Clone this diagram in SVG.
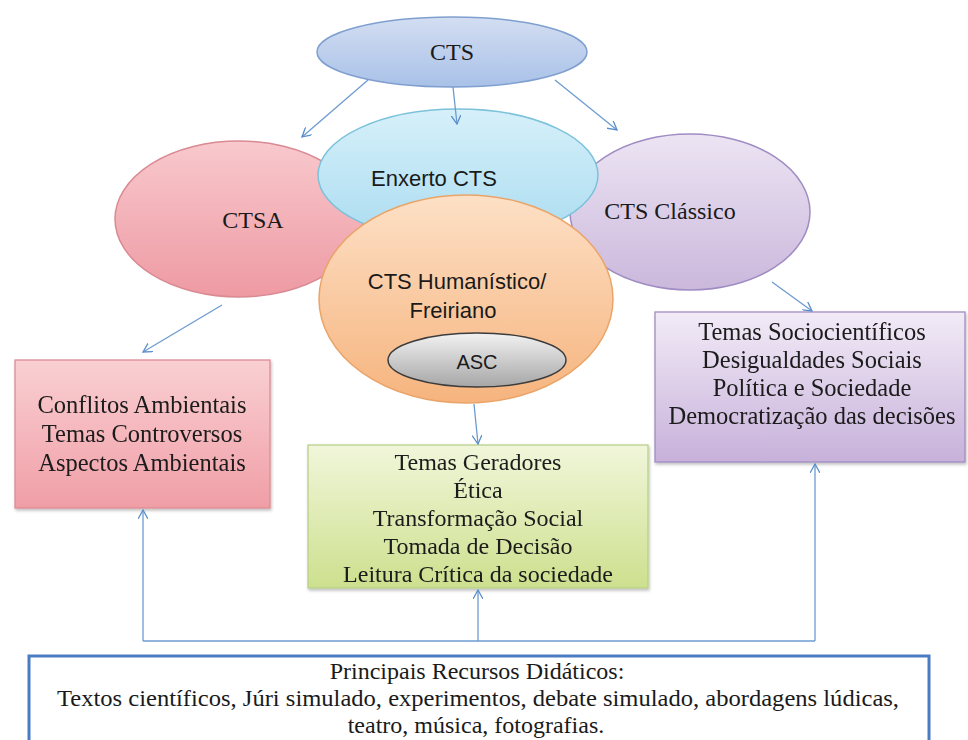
<svg xmlns="http://www.w3.org/2000/svg" width="968" height="740" viewBox="0 0 968 740">
<defs>
<linearGradient id="gBlue" x1="0" y1="0" x2="0" y2="1"><stop offset="0" stop-color="#d3def2"/><stop offset="1" stop-color="#a9c1e8"/></linearGradient>
<linearGradient id="gPink" x1="0" y1="0" x2="0" y2="1"><stop offset="0" stop-color="#f8c9cd"/><stop offset="1" stop-color="#ee9aa3"/></linearGradient>
<linearGradient id="gCyan" x1="0" y1="0" x2="0" y2="1"><stop offset="0" stop-color="#d6f0fa"/><stop offset="1" stop-color="#aadcf0"/></linearGradient>
<linearGradient id="gLav" x1="0" y1="0" x2="0" y2="1"><stop offset="0" stop-color="#ece4f3"/><stop offset="1" stop-color="#cbb8dc"/></linearGradient>
<linearGradient id="gOrange" x1="0" y1="0" x2="0" y2="1"><stop offset="0" stop-color="#fde0c6"/><stop offset="1" stop-color="#f6b47e"/></linearGradient>
<linearGradient id="gGray" x1="0" y1="0" x2="0" y2="1"><stop offset="0" stop-color="#f2f2f2"/><stop offset="1" stop-color="#a6a6a6"/></linearGradient>
<linearGradient id="gPinkBox" x1="0" y1="0" x2="0" y2="1"><stop offset="0" stop-color="#f9d0d3"/><stop offset="1" stop-color="#f09ea6"/></linearGradient>
<linearGradient id="gGreen" x1="0" y1="0" x2="0" y2="1"><stop offset="0" stop-color="#f1f6da"/><stop offset="1" stop-color="#cde08e"/></linearGradient>
<linearGradient id="gPurple" x1="0" y1="0" x2="0" y2="1"><stop offset="0" stop-color="#f2ebf7"/><stop offset="1" stop-color="#c7b1da"/></linearGradient>
<filter id="sh" x="-10%" y="-10%" width="120%" height="125%"><feDropShadow dx="1" dy="2" stdDeviation="1.5" flood-color="#000" flood-opacity="0.25"/></filter>
<marker id="arr" viewBox="0 0 10 10" refX="9" refY="5" markerWidth="10" markerHeight="10" markerUnits="userSpaceOnUse" orient="auto"><path d="M0,0 L9,5 L0,10" fill="none" stroke="#5b8fc9" stroke-width="1.3"/></marker>
</defs>
<style>
.serif{font-family:"Liberation Serif","Times New Roman",serif;fill:#1a1a1a;text-anchor:middle}
.sans{font-family:"Liberation Sans",Arial,sans-serif;fill:#1a1a1a;text-anchor:middle}
.conn{fill:none;stroke:#6d9bd1;stroke-width:1.3}
</style>
<rect width="968" height="740" fill="#fff"/>

<g id="cts">
<ellipse cx="452" cy="52" rx="135" ry="35" fill="url(#gBlue)" stroke="#7f9fcf" stroke-width="1.5"/>
<text class="serif" x="452" y="60" font-size="24">CTS</text>
</g>

<g id="ctsa">
<ellipse cx="239" cy="219" rx="124" ry="78" fill="url(#gPink)" stroke="#d98a93" stroke-width="1.5"/>
<text class="serif" x="253" y="228" font-size="24">CTSA</text>
</g>

<g id="cts-classico">
<ellipse cx="690" cy="212" rx="120" ry="78" fill="url(#gLav)" stroke="#9e8cc3" stroke-width="1.5"/>
<text class="serif" x="670" y="219" font-size="24">CTS Clássico</text>
</g>

<g id="enxerto">
<ellipse cx="458" cy="175" rx="140" ry="66" fill="url(#gCyan)" stroke="#7cc2da" stroke-width="1.5"/>
<text class="sans" x="434" y="186" font-size="22">Enxerto CTS</text>
</g>

<g id="humanistico">
<ellipse cx="466" cy="299" rx="147" ry="104" fill="url(#gOrange)" stroke="#eaa468" stroke-width="1.5"/>
<text class="sans" x="457" y="289" font-size="22">CTS Humanístico/</text>
<text class="sans" x="453" y="318" font-size="22">Freiriano</text>
</g>

<g id="asc">
<ellipse cx="477" cy="360" rx="89" ry="27" fill="url(#gGray)" stroke="#3c3c3c" stroke-width="1.5"/>
<text class="sans" x="477" y="369" font-size="20">ASC</text>
</g>

<g id="box-ctsa" filter="url(#sh)">
<rect x="15" y="360" width="255" height="148" fill="url(#gPinkBox)" stroke="#dc8c94" stroke-width="1.3"/>
<text class="serif" x="142" y="413" font-size="24.5">Conflitos Ambientais</text>
<text class="serif" x="142" y="442" font-size="24.5">Temas Controversos</text>
<text class="serif" x="142" y="471" font-size="24.5">Aspectos Ambientais</text>
</g>

<g id="box-humanistico" filter="url(#sh)">
<rect x="308" y="445" width="340" height="143" fill="url(#gGreen)" stroke="#b9d08a" stroke-width="1.3"/>
<text class="serif" x="478" y="470" font-size="24">Temas Geradores</text>
<text class="serif" x="478" y="498" font-size="24">Ética</text>
<text class="serif" x="478" y="526" font-size="24">Transformação Social</text>
<text class="serif" x="478" y="554" font-size="24">Tomada de Decisão</text>
<text class="serif" x="478" y="582" font-size="24">Leitura Crítica da sociedade</text>
</g>

<g id="box-classico" filter="url(#sh)">
<rect x="655" y="312" width="310" height="150" fill="url(#gPurple)" stroke="#a08dc0" stroke-width="1.3"/>
<text class="serif" x="812" y="340" font-size="24.5">Temas Sociocientíficos</text>
<text class="serif" x="812" y="368" font-size="24.5">Desigualdades Sociais</text>
<text class="serif" x="812" y="396" font-size="24.5">Política e Sociedade</text>
<text class="serif" x="812" y="424" font-size="24.5">Democratização das decisões</text>
</g>

<g id="box-recursos">
<rect x="29" y="656" width="900" height="100" fill="#fff" stroke="#4a7cc2" stroke-width="3"/>
<text class="serif" x="477" y="679" font-size="24">Principais Recursos Didáticos:</text>
<text class="serif" x="478" y="706" font-size="24" textLength="842" lengthAdjust="spacingAndGlyphs">Textos científicos, Júri simulado, experimentos, debate simulado, abordagens lúdicas,</text>
<text class="serif" x="476" y="733" font-size="24">teatro, música, fotografias.</text>
</g>

<g id="connectors">
<line class="conn" x1="368" y1="80" x2="302" y2="137" marker-end="url(#arr)"/>
<line class="conn" x1="453" y1="87" x2="457" y2="124" marker-end="url(#arr)"/>
<line class="conn" x1="555" y1="80" x2="617" y2="130" marker-end="url(#arr)"/>
<line class="conn" x1="222" y1="305" x2="143" y2="352" marker-end="url(#arr)"/>
<line class="conn" x1="772" y1="282" x2="812" y2="311" marker-end="url(#arr)"/>
<line class="conn" x1="474" y1="404" x2="478" y2="444" marker-end="url(#arr)"/>
<polyline class="conn" points="143,641 815,641"/>
<line class="conn" x1="143" y1="641" x2="143" y2="510" marker-end="url(#arr)"/>
<line class="conn" x1="478" y1="641" x2="478" y2="590" marker-end="url(#arr)"/>
<line class="conn" x1="815" y1="641" x2="815" y2="464" marker-end="url(#arr)"/>
</g>
</svg>
